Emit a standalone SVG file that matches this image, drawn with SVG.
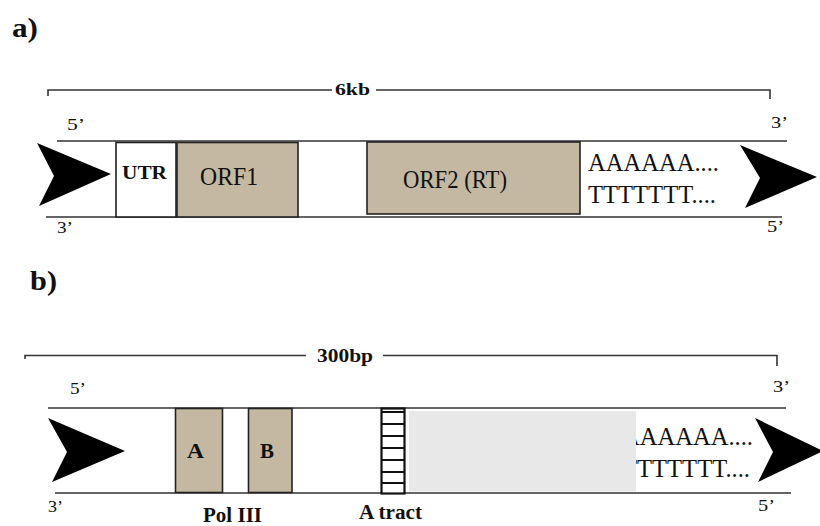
<svg xmlns="http://www.w3.org/2000/svg" width="820" height="526" viewBox="0 0 820 526">
<style>
.t{font-family:"Liberation Serif","Times New Roman","DejaVu Serif",serif;fill:#111}
.b{font-weight:bold}
.ln{stroke:#333;stroke-width:1.6;fill:none}
.tan{fill:#C4B8A2;stroke:#222;stroke-width:1.6}
.wbox{fill:#fff;stroke:#222;stroke-width:1.6}
.arr{fill:#000}
</style>
<rect width="820" height="526" fill="#fff"/>
<g font-family="Liberation Serif, serif">
<text class="t b" x="12" y="37" font-size="28" textLength="26" lengthAdjust="spacingAndGlyphs">a)</text>
<text class="t b" x="30" y="290" font-size="28" textLength="27" lengthAdjust="spacingAndGlyphs">b)</text>
<g id="connectors">
<path class="ln" d="M48,96 V90 H332 M376,90 H770 V99"/>
<path class="ln" d="M57,141 H787 M46,217 H782"/>
<path class="ln" d="M25,359 V355.5 H306 M383,355.5 H777 V366"/>
<path class="ln" d="M48,408 H786 M55,493 H791"/>
</g>
<g id="scale-a">
<text class="t b" x="335" y="95" font-size="17" textLength="35" lengthAdjust="spacingAndGlyphs">6kb</text>
</g>
<g id="ends-a">
<text class="t" x="67" y="130" font-size="16" textLength="18" lengthAdjust="spacingAndGlyphs">5’</text>
<text class="t" x="57" y="233" font-size="16" textLength="16" lengthAdjust="spacingAndGlyphs">3’</text>
<text class="t" x="771" y="128" font-size="16" textLength="17" lengthAdjust="spacingAndGlyphs">3’</text>
<text class="t" x="767" y="232" font-size="16" textLength="17" lengthAdjust="spacingAndGlyphs">5’</text>
</g>
<g id="arrow-a-left"><polygon class="arr" points="37,143 111,174 39,206 54,176"/></g>
<g id="arrow-a-right"><polygon class="arr" points="740,145 817,177 745,208 760,178"/></g>
<g id="utr">
<rect class="wbox" x="116" y="142.5" width="60" height="74.5"/>
<text class="t b" x="122" y="179" font-size="18" textLength="45" lengthAdjust="spacingAndGlyphs">UTR</text>
</g>
<g id="orf1">
<rect class="tan" x="177" y="142.5" width="121" height="74.5" stroke-width="2.4"/>
<text class="t" x="200" y="185" font-size="25" textLength="58" lengthAdjust="spacingAndGlyphs">ORF1</text>
</g>
<g id="orf2">
<rect class="tan" x="367" y="142" width="213" height="72"/>
<text class="t" x="403" y="188" font-size="25" textLength="104" lengthAdjust="spacingAndGlyphs">ORF2 (RT)</text>
</g>
<g id="polyA-a">
<text class="t" x="588" y="171" font-size="26" textLength="131" lengthAdjust="spacingAndGlyphs">AAAAAA....</text>
<text class="t" x="588" y="203" font-size="26" textLength="128" lengthAdjust="spacingAndGlyphs">TTTTTTT....</text>
</g>
<g id="scale-b">
<text class="t b" x="317" y="362" font-size="19" textLength="56" lengthAdjust="spacingAndGlyphs">300bp</text>
</g>
<g id="ends-b">
<text class="t" x="70" y="394" font-size="16" textLength="16" lengthAdjust="spacingAndGlyphs">5’</text>
<text class="t" x="48" y="512" font-size="16" textLength="15" lengthAdjust="spacingAndGlyphs">3’</text>
<text class="t" x="773" y="392" font-size="16" textLength="17" lengthAdjust="spacingAndGlyphs">3’</text>
<text class="t" x="758" y="511" font-size="16" textLength="17" lengthAdjust="spacingAndGlyphs">5’</text>
</g>
<g id="arrow-b-left"><polygon class="arr" points="48,418 125,451 52,482 67,452"/></g>
<g id="arrow-b-right"><polygon class="arr" points="755,418 823,451 758,482 773,452"/></g>
<g id="box-a">
<rect class="tan" x="175.5" y="408.5" width="47" height="84"/>
<text class="t b" x="187" y="458" font-size="21" textLength="17" lengthAdjust="spacingAndGlyphs">A</text>
</g>
<g id="box-b">
<rect class="tan" x="248.5" y="408.5" width="43.5" height="84"/>
<text class="t b" x="260" y="458" font-size="21" textLength="14" lengthAdjust="spacingAndGlyphs">B</text>
</g>
<g id="pol3-label">
<text class="t b" x="203" y="522" font-size="20" textLength="59" lengthAdjust="spacingAndGlyphs">Pol III</text>
</g>
<g id="polyA-b">
<text class="t" x="622" y="445" font-size="26" textLength="131" lengthAdjust="spacingAndGlyphs">AAAAAA....</text>
<text class="t" x="622" y="477" font-size="26" textLength="128" lengthAdjust="spacingAndGlyphs">TTTTTTT....</text>
</g>
<g id="body-b">
<rect x="409" y="411" width="227" height="80.5" fill="#E8E8E8"/>
</g>
<g id="a-tract">
<rect x="381.5" y="408.5" width="23" height="85" fill="#fff" stroke="#111" stroke-width="2.2"/>
<path stroke="#111" stroke-width="2" d="M381.5,412 H404.5 M381.5,424 H404.5 M381.5,436 H404.5 M381.5,448 H404.5 M381.5,460 H404.5 M381.5,472 H404.5 M381.5,483 H404.5"/>
<text class="t b" x="359" y="519" font-size="20" textLength="63" lengthAdjust="spacingAndGlyphs">A tract</text>
</g>
</g>
</svg>
